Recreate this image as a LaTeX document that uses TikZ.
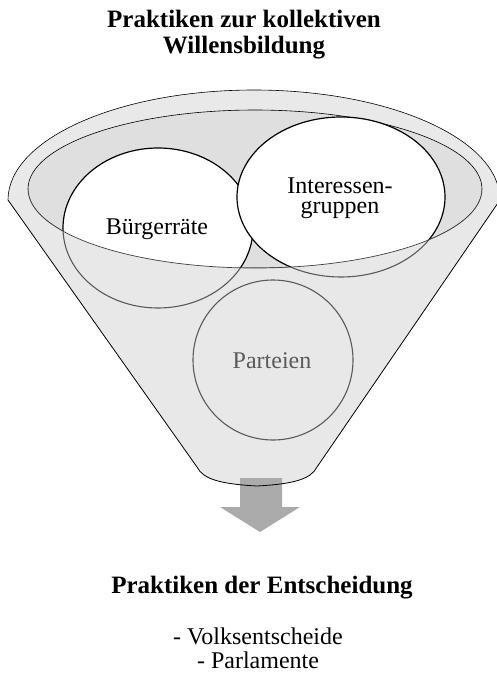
\documentclass[tikz,border=0pt]{standalone}
\usepackage{fontspec}
\setmainfont{Liberation Serif}
\usetikzlibrary{positioning}

\definecolor{rimgray}{HTML}{E9E9E9}
\definecolor{innergray}{HTML}{DFDFDF}
\definecolor{bodygray}{HTML}{E8E8E8}
\definecolor{arrowgray}{HTML}{ABABAB}
\definecolor{fadegray}{HTML}{5A5A5A}

\begin{document}
\begin{tikzpicture}[x=1pt, y=-1pt,
  lbl/.style={font=\fontsize{24}{20}\selectfont, align=center},
  hdr/.style={font=\fontsize{25}{26}\selectfont\bfseries, align=center},
  bubble/.style={draw=black, line width=1.2pt, fill=white}]
  \useasboundingbox (0,0) rectangle (497,673);
  % funnel body, back part
  \fill[bodygray] (8,200) -- (197,467) .. controls (203,479) and (220,484) .. (257,486)
    .. controls (294,484) and (311,479) .. (317,467) -- (500,200) -- cycle;
  % rim (upper half only) and opening
  \fill[rimgray] (8,200) arc[start angle=180, end angle=360, x radius=246, y radius=110] -- cycle;
  \draw[line width=0.6pt] (8,200) arc[start angle=180, end angle=360, x radius=246, y radius=110];
  \filldraw[fill=innergray, line width=0.6pt] (255,189) ellipse[x radius=227, y radius=79];
  % Buergerraete and Interessengruppen
  \draw[bubble] (158,228) ellipse[x radius=95, y radius=80];
  \draw[bubble] (341,197) ellipse[x radius=104, y radius=80];
  \node[lbl, anchor=base] (buerger) at (157,234) {Bürgerräte};
  \node[lbl, anchor=base] (interessen) at (340,213) {Interessen-\\gruppen};
  % front of the funnel, covers the lower parts
  \fill[bodygray] (8,200) -- (197,467) .. controls (203,479) and (220,484) .. (257,486)
    .. controls (294,484) and (311,479) .. (317,467) -- (500,200) -- (482,189)
    arc[start angle=0, end angle=180, x radius=227, y radius=79] -- cycle;
  \begin{scope}
    \clip (8,200) -- (197,467) -- (317,467) -- (500,200) -- (482,189)
      arc[start angle=0, end angle=180, x radius=227, y radius=79] -- cycle;
    \draw[fadegray, line width=1.1pt] (158,228) ellipse[x radius=95, y radius=80];
    \draw[fadegray, line width=1.1pt] (341,197) ellipse[x radius=104, y radius=80];
  \end{scope}
  \draw[black!75, line width=0.7pt] (482,189) arc[start angle=0, end angle=180, x radius=227, y radius=79];
  % Parteien
  \draw[fadegray, line width=1.1pt] (273,360) circle[radius=80];
  \node[lbl, anchor=base, text=fadegray] (parteien) at (272,368) {Parteien};
  % block arrow out of the funnel
  \fill[arrowgray] (240,478) -- (282,478) -- (282,507) -- (300,507) -- (260,532)
    -- (220,507) -- (240,507) -- cycle;
  % funnel outline
  \draw[line width=0.8pt] (8,200) -- (197,467) .. controls (203,479) and (220,484) .. (257,486)
    .. controls (294,484) and (311,479) .. (317,467) -- (500,200);
  % texts
  \node[hdr, anchor=base] (titel) at (244,53) {Praktiken zur kollektiven\\Willensbildung};
  \node[hdr, anchor=base] (entscheidung) at (262,593) {Praktiken der Entscheidung};
  \node[lbl, font=\fontsize{24}{24}\selectfont, anchor=base] (liste) at (258,668)
    {- Volksentscheide\\- Parlamente};
\end{tikzpicture}
\end{document}
